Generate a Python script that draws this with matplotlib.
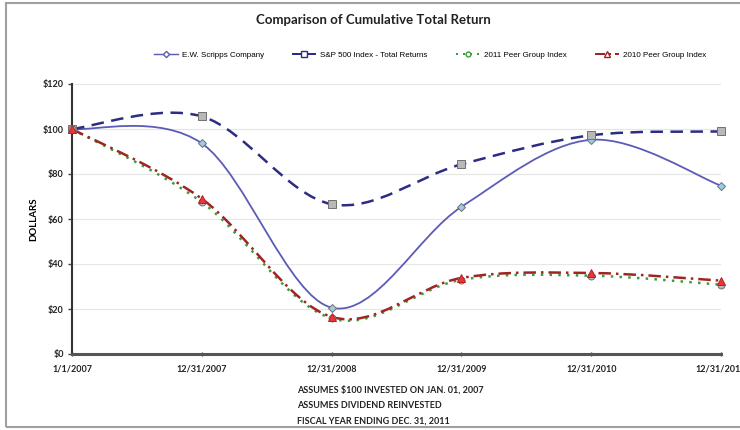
import numpy as np
import matplotlib
matplotlib.use('Agg')
from matplotlib import pyplot as plt
from matplotlib.path import Path
from matplotlib.patches import PathPatch, Rectangle
from matplotlib.lines import Line2D

dates = ['1/1/2007', '12/31/2007', '12/31/2008', '12/31/2009', '12/31/2010', '12/31/2011']
scripps = [100, 93.6, 20.6, 65.4, 95.2, 74.8]
sp500 = [100, 105.6, 66.6, 84.3, 97.2, 98.9]
peer2011 = [100, 67.5, 15.8, 33.0, 34.8, 30.8]
peer2010 = [100, 69.0, 16.5, 33.8, 36.0, 32.6]
series_names = ['E.W. Scripps Company', 'S&P 500 Index - Total Returns',
                '2011 Peer Group Index', '2010 Peer Group Index']
yticks = [0, 20, 40, 60, 80, 100, 120]
notes = ['ASSUMES $100 INVESTED ON JAN. 01, 2007',
         'ASSUMES DIVIDEND REINVESTED',
         'FISCAL YEAR ENDING DEC. 31, 2011']

label_font = ['Lato', 'DejaVu Sans']
narrow_font = ['Liberation Sans Narrow', 'Liberation Sans', 'DejaVu Sans']


def smooth_path(vals):
    # excel-style smoothed line: bezier through the points
    pts = np.column_stack([np.arange(len(vals)), vals]).astype(float)
    ext = np.vstack([pts[0], pts, pts[-1]])
    verts = [pts[0]]
    codes = [Path.MOVETO]
    for i in range(len(pts) - 1):
        p0, p1, p2, p3 = ext[i], ext[i + 1], ext[i + 2], ext[i + 3]
        verts += [p1 + (p2 - p0) / 6, p2 - (p3 - p1) / 6, p2]
        codes += [Path.CURVE4] * 3
    return Path(verts, codes)


fig = plt.figure(figsize=(7.4, 4.3), dpi=100)
fig.patches.append(Rectangle((6 / 740, 3 / 430), 740, 424 / 430, transform=fig.transFigure,
                             fill=False, edgecolor='#a0a0a0', linewidth=1.5))

ax = fig.add_axes([72 / 740, 76 / 430, 649 / 740, 270 / 430])
ax.set_xlim(0, 5)
ax.set_ylim(0, 120)

styles = [
    dict(vals=scripps, color='#5b5bb8', ls='-', lw=1.3, marker='D', ms=4.5,
         mfc='#9ccbe6', mec='#707070'),
    dict(vals=sp500, color='#2c2c82', ls=(0, (5, 3)), lw=1.8, marker='s', ms=5.5,
         mfc='#b8b8b8', mec='#707070'),
    dict(vals=peer2011, color='#3c9c3c', ls=(0, (1, 2.5)), lw=1.8, marker='o', ms=5,
         mfc='#b8b8b8', mec='#707070'),
    dict(vals=peer2010, color='#a02424', ls=(0, (5, 2, 1, 2)), lw=1.8, marker='^', ms=6,
         mfc='#e8363a', mec='#c02020'),
]

handles = []
for st, name in zip(styles, series_names):
    ax.add_patch(PathPatch(smooth_path(st['vals']), fill=False, edgecolor=st['color'],
                           linestyle=st['ls'], linewidth=st['lw'], zorder=3))
    ax.plot(range(len(dates)), st['vals'], linestyle='none', marker=st['marker'],
            ms=st['ms'], mfc=st['mfc'], mec=st['mec'], mew=0.7, zorder=4, clip_on=False)
    handles.append(Line2D([], [], color=st['color'], ls=st['ls'], lw=st['lw'] * 0.8,
                          marker=st['marker'], ms=st['ms'] * 0.7, mfc='white',
                          mec=st['color'], label=name))

ax.set_yticks(yticks)
ax.set_yticklabels(['$%d' % v for v in yticks], fontsize=6.5, fontweight='bold',
                   family=label_font, color='#222222')
ax.set_xticks(range(len(dates)))
ax.set_xticklabels(dates, fontsize=6.5, fontweight='bold', family=label_font, color='#222222')
ax.tick_params(axis='y', length=3, width=1, color='#444444', pad=3)
ax.tick_params(axis='x', length=3, width=1, color='#444444', direction='inout', pad=6)
ax.grid(axis='y', color='#e6e6e6', linewidth=0.8)
ax.set_axisbelow(True)
for s in ['top', 'right']:
    ax.spines[s].set_visible(False)
ax.spines['left'].set_color('#333333')
ax.spines['left'].set_linewidth(1.5)
ax.spines['bottom'].set_color('#555555')
ax.spines['bottom'].set_linewidth(2.2)
ax.set_ylabel('DOLLARS', fontsize=7, fontweight='bold', family=label_font, labelpad=3)

fig.text(373 / 740, 1 - 20 / 430, 'Comparison of Cumulative Total Return', ha='center',
         va='center', fontsize=9.5, fontweight='bold', family=label_font, color='#222222')
fig.legend(handles=handles, loc='center', bbox_to_anchor=(430 / 740, 1 - 55 / 430), ncol=4,
           frameon=False, prop={'family': narrow_font, 'size': 5.8}, handlelength=3,
           columnspacing=3.5, handletextpad=0.5)

for i, t in enumerate(notes):
    fig.text(297 / 740, 1 - (390 + 15.5 * i) / 430, t, ha='left', va='center', fontsize=6.5,
             fontweight='bold', family=label_font, color='#222222')

fig.savefig('out.png', dpi=100)
